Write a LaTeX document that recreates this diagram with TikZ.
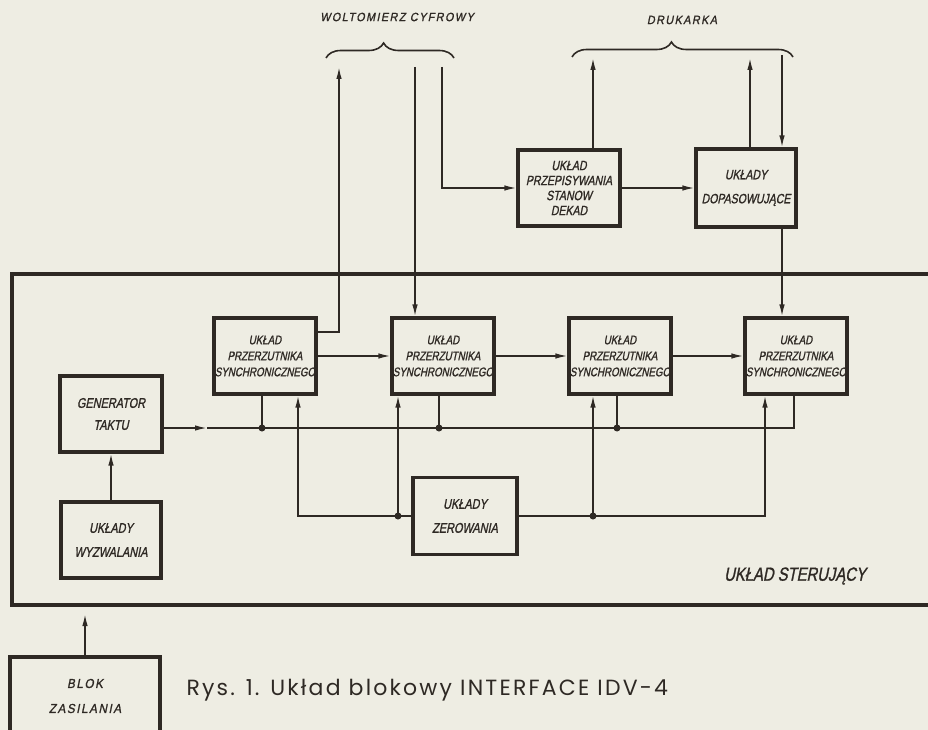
\documentclass[tikz,border=0pt]{standalone}
\usepackage{fontspec}
\usetikzlibrary{arrows.meta,decorations.pathreplacing}
\newfontfamily\handfont[FakeStretch=0.78,FakeSlant=0.2,FakeBold=1.2]{Liberation Sans}
\newfontfamily\handwide[FakeStretch=0.9,FakeSlant=0.2,FakeBold=1.2,LetterSpace=12]{Liberation Sans}
\newfontfamily\capfont[LetterSpace=10]{Poppins}
\definecolor{paper}{HTML}{EEEDE3}
\definecolor{ink}{HTML}{2E2924}

\begin{document}
\begin{tikzpicture}[x=1pt,y=-1pt,
    blok/.style={draw=ink, line width=3.2pt, minimum width=102pt, minimum height=76pt,
        inner sep=0pt, align=center, text=ink, font=\handfont\fontsize{12.5}{16}\selectfont},
    conn/.style={draw=ink, line width=1.5pt},
    arrowline/.style={-{Latex[length=12pt,width=5.5pt]}},
    klamra/.style={draw=ink, line width=1.6pt, decorate}]
    \useasboundingbox (0,0) rectangle (928,730);
    \fill[paper] (0,0) rectangle (928,730);

    % uklad sterujacy
    \draw[ink, line width=3.5pt] (12,274) rectangle (940,605);
    \node[text=ink, font=\handfont\fontsize{19}{22}\selectfont] (ster) at (795,576) {UKŁAD STERUJĄCY};

    % bloki
    \node[blok] (ff1) at (265,356) {UKŁAD\\PRZERZUTNIKA\\SYNCHRONICZNEGO};
    \node[blok] (ff2) at (443,356) {UKŁAD\\PRZERZUTNIKA\\SYNCHRONICZNEGO};
    \node[blok] (ff3) at (620,356) {UKŁAD\\PRZERZUTNIKA\\SYNCHRONICZNEGO};
    \node[blok] (ff4) at (796,356) {UKŁAD\\PRZERZUTNIKA\\SYNCHRONICZNEGO};
    \node[blok, font=\handfont\fontsize{14}{22}\selectfont] (gen) at (111,414) {GENERATOR\\TAKTU};
    \node[blok, minimum width=100pt, font=\handfont\fontsize{14}{24}\selectfont] (wyzw) at (111,540) {UKŁADY\\WYZWALANIA};
    \node[blok, minimum width=104pt, minimum height=77pt, font=\handfont\fontsize{14}{24}\selectfont] (zer) at (465,516) {UKŁADY\\ZEROWANIA};
    \node[blok, font=\handfont\fontsize{13.5}{15}\selectfont] (przep) at (569,188) {UKŁAD\\PRZEPISYWANIA\\STANOW\\DEKAD};
    \node[blok, minimum width=100pt, minimum height=78pt, font=\handfont\fontsize{13.5}{24}\selectfont] (dop) at (746,188) {UKŁADY\\DOPASOWUJĄCE};
    \node[blok, minimum width=150pt, minimum height=78pt, font=\handwide\fontsize{13}{25}\selectfont] (zasil) at (85,696) {BLOK\\ZASILANIA};

    % woltomierz i drukarka
    \node[text=ink, font=\handwide\fontsize{12}{14}\selectfont] (wolt) at (397,17) {WOLTOMIERZ CYFROWY};
    \node[text=ink, font=\handwide\fontsize{12}{14}\selectfont] (druk) at (682,20) {DRUKARKA};
    \draw[klamra, decoration={brace, amplitude=15pt, aspect=0.45}] (326,58) -- (454,58);
    \draw[klamra, decoration={brace, amplitude=15pt, aspect=0.45}] (572,57) -- (793,57);
    \coordinate (wolt1) at (339,67);
    \coordinate (wolt2) at (415,67);
    \coordinate (wolt3) at (442,67);
    \coordinate (druk1) at (593,58);
    \coordinate (druk2) at (750,58);
    \coordinate (druk3) at (782,55);
    \draw[conn, arrowline] ([yshift=24pt]ff1.east) -| (wolt1);
    \draw[conn, arrowline] (wolt2) -- (wolt2 |- ff2.north);
    \draw[conn, arrowline] (wolt3) |- (przep);
    \draw[conn, arrowline] (przep.north -| druk1) -- (druk1);
    \draw[conn, arrowline] (przep) -- (dop);
    \draw[conn, arrowline] (dop.north -| druk2) -- (druk2);
    \draw[conn, arrowline] (druk3) -- (druk3 |- dop.north);
    \draw[conn, arrowline] (dop.south -| druk3) -- (druk3 |- ff4.north);

    % przerzutniki
    \draw[conn, arrowline] (ff1) -- (ff2);
    \draw[conn, arrowline] (ff2) -- (ff3);
    \draw[conn, arrowline] (ff3) -- (ff4);
    \draw[conn, arrowline] (wyzw) -- (gen);
    \coordinate (zas) at (85,614);
    \draw[conn, arrowline] (zasil) -- (zas);

    % takt
    \coordinate (takt) at (207,428);
    \coordinate (szyna) at (794,428);
    \coordinate (t1) at (262,428);
    \coordinate (t2) at (439,428);
    \coordinate (t3) at (617,428);
    \draw[conn, arrowline] (gen.east |- takt) -- (takt);
    \draw[conn] (takt) -- (szyna) -- (szyna |- ff4.south);
    \draw[conn] (ff1.south -| t1) -- (t1);
    \draw[conn] (ff2.south -| t2) -- (t2);
    \draw[conn] (ff3.south -| t3) -- (t3);
    \foreach \t in {t1,t2,t3}
        \fill[ink] (\t) circle (3.5pt);

    % zerowanie
    \coordinate (z1) at (298,516);
    \coordinate (z2) at (398,516);
    \coordinate (z3) at (593,516);
    \coordinate (z4) at (765,516);
    \draw[conn, arrowline] (zer) -| (z1 |- ff1.south);
    \draw[conn, arrowline] (z2) -- (z2 |- ff2.south);
    \draw[conn, arrowline] (zer) -| (z4 |- ff4.south);
    \draw[conn, arrowline] (z3) -- (z3 |- ff3.south);
    \foreach \z in {z2,z3}
        \fill[ink] (\z) circle (3.5pt);

    \node[text=ink, font=\capfont\fontsize{22}{24}\selectfont, anchor=west] (rys) at (183,690) {Rys. 1. Układ blokowy INTERFACE IDV-4};
\end{tikzpicture}
\end{document}
